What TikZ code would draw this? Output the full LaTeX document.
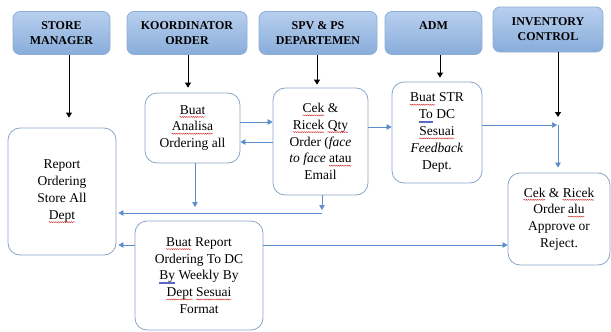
\documentclass[tikz,border=0pt]{standalone}
\usepackage{fontspec}
\setmainfont{Liberation Serif}
\usetikzlibrary{arrows.meta,calc,decorations.pathmorphing}

\definecolor{hdtop}{HTML}{B8CFEE}
\definecolor{hdbot}{HTML}{88ADDA}
\definecolor{hdline}{HTML}{8EAED6}
\definecolor{boxline}{HTML}{8AA4C6}
\definecolor{flow}{HTML}{5B8DCB}
\definecolor{spell}{HTML}{D03030}
\definecolor{gram}{HTML}{5A66C8}

% spell-check and grammar underlines under single words
\newsavebox\wordbox
\newcommand\spl[1]{\sbox\wordbox{#1}\usebox\wordbox\llap{\tikz[baseline=0pt]
  \draw[spell,line width=0.45pt,sharp corners,decorate,decoration={snake,amplitude=0.5pt,segment length=2.2pt}]
    (0pt,-2.8pt) -- (\wd\wordbox,-2.8pt);}}
\newcommand\grm[1]{\sbox\wordbox{#1}\usebox\wordbox\llap{\tikz[baseline=0pt]{
  \draw[gram,line width=0.3pt,sharp corners] (0pt,-2.4pt) -- (\wd\wordbox,-2.4pt);
  \draw[gram,line width=0.3pt,sharp corners] (0pt,-3.4pt) -- (\wd\wordbox,-3.4pt);}}}

\begin{document}
\begin{tikzpicture}[x=1pt,y=-1pt,
  header/.style={draw=hdline,line width=0.8pt,rounded corners=7pt,top color=hdtop,bottom color=hdbot,
    minimum height=43pt,inner sep=2pt,align=center,
    font=\fontsize{12}{15}\selectfont\bfseries},
  task/.style={draw=boxline,line width=0.8pt,rounded corners=12pt,fill=white,align=center,inner sep=2pt,
    font=\fontsize{13.5}{16.8}\selectfont},
  blk/.style={draw=black,line width=0.8pt,-{Triangle[width=6pt,length=5pt]}},
  blu/.style={draw=flow,line width=0.7pt,-{Triangle[width=5.5pt,length=5pt]}}]

\useasboundingbox (0,0) rectangle (611,332);

% role headers
\node[header,minimum width=97pt]  (hSM)  at (61.5,33)  {STORE\\MANAGER};
\node[header,minimum width=120pt] (hKO)  at (187,33)   {KOORDINATOR\\ORDER};
\node[header,minimum width=118pt] (hSPV) at (318,33)   {SPV \& PS\\DEPARTEMEN};
\node[header,minimum width=97pt]  (hADM) at (433.5,33) {ADM\\\mbox{}};
\node[header,minimum width=110pt,minimum height=45pt] (hINV) at (548,29.5) {INVENTORY\\CONTROL};

% process steps
\node[task,minimum width=108pt,minimum height=127pt] (report) at (62,191.5)
  {Report\\Ordering\\Store All\\\spl{Dept}};
\node[task,minimum width=95pt,minimum height=70pt] (analisa) at (192.5,128)
  {\spl{Buat}\\\spl{Analisa}\\Ordering all};
\node[task,minimum width=95pt,minimum height=107pt] (cek) at (320.5,141.5)
  {\spl{Cek} \&\\\spl{Ricek} \spl{Qty}\\Order (\textit{face}\\\textit{to face} \spl{atau}\\Email};
\node[task,minimum width=90pt,minimum height=101pt] (str) at (437,132.5)
  {\spl{Buat} STR\\\grm{To} DC\\\spl{Sesuai}\\\textit{Feedback}\\Dept.};
\node[task,minimum width=102pt,minimum height=92pt] (final) at (559,219)
  {\spl{Cek} \& \spl{Ricek}\\Order \spl{alu}\\Approve or\\Reject.};
\node[task,minimum width=128pt,minimum height=109pt] (rep) at (199,275.5)
  {\spl{Buat} Report\\Ordering To DC\\\grm{By} Weekly By\\\spl{Dept} \spl{Sesuai}\\Format};

% junctions of the flow lines
\coordinate (j)  at (558,125);
\coordinate (ja) at (195,213);
\coordinate (jc) at (322,213);

% responsibilities
\draw[blk,shorten >=10pt] ([xshift=7.5pt]hSM.south) -- ([xshift=7.5pt]hSM.south |- report.north);
\draw[blk,shorten >=5pt]  ([xshift=1pt]hKO.south) -- ([xshift=1pt]hKO.south |- analisa.north);
\draw[blk,shorten >=3pt]  ([xshift=-1pt]hSPV.south) -- ([xshift=-1pt]hSPV.south |- cek.north);
\draw[blk,shorten >=4pt]  ([xshift=6.5pt]hADM.south) -- ([xshift=6.5pt]hADM.south |- str.north);
\draw[blk,shorten >=8pt]  (hINV.south -| j) -- (j);

% flow between steps
\draw[blu] (analisa.east |- 0,122) -- (cek.west |- 0,122);
\draw[blu] (cek.west |- 0,142) -- (analisa.east |- 0,142);
\draw[blu] (cek.east |- 0,127) -- (str.west |- 0,127);
\draw[blu,shorten >=1pt] (str.east |- j) -- (j);
\draw[blu,shorten >=5pt] (j) -- (j |- final.north);
\draw[blu,shorten >=6pt] (analisa.south -| ja) -- (ja);
\draw[blu,shorten >=3pt] (cek.south -| jc) -- (jc);
\draw[blu,shorten >=2pt] (jc) -- (report.east |- jc);
\draw[blu,shorten >=2pt] (rep.west |- 0,245) -- (report.east |- 0,245);
\draw[blu] (rep.east |- 0,245) -- (final.west |- 0,245);

\end{tikzpicture}
\end{document}
